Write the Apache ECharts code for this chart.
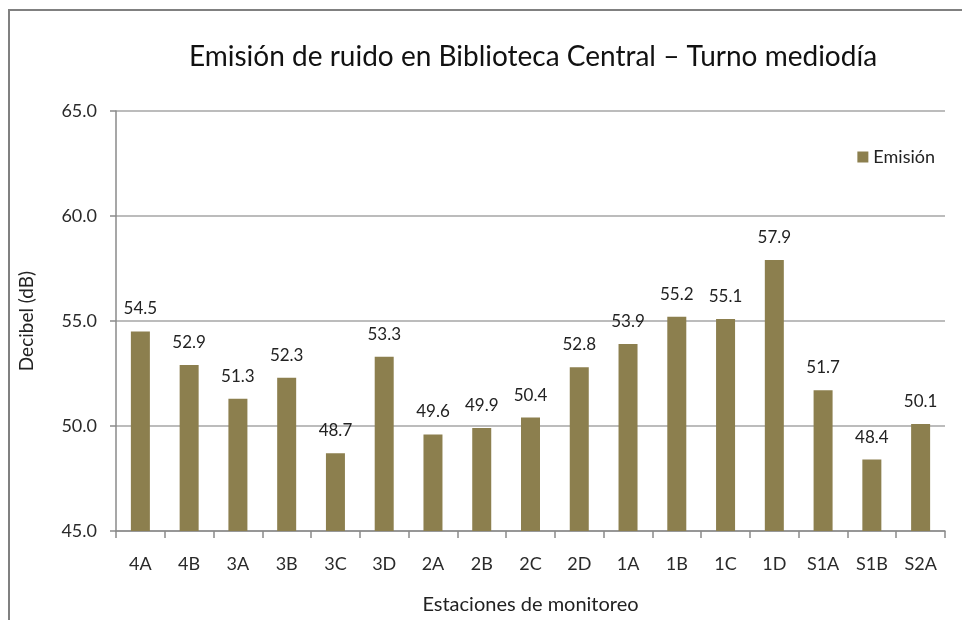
<!DOCTYPE html>
<html>
	<head>
		<meta charset="utf-8">
		<script src="https://cdn.jsdelivr.net/npm/echarts@6/dist/echarts.min.js"></script>
		<title>Emisión de ruido</title>
	</head>
	<style>
		* {
			margin: 0;
			padding: 0;
			box-sizing: border-box;
		}
		body {
			background: #fff;
		}
		.frame {
			position: absolute;
			left: 8px;
			top: 9px;
			width: 960px;
			height: 620px;
			border-top: 2px solid #808080;
			border-left: 2px solid #808080;
		}
	</style>
	<body>
		<div class="frame"></div>
		<div id="chart" style="position:absolute;left:0;top:0;width:962px;height:620px;"></div>
	</body>
	<script type="text/javascript">
		// estaciones y valores
		var estaciones = ['4A', '4B', '3A', '3B', '3C', '3D', '2A', '2B', '2C', '2D', '1A', '1B', '1C', '1D', 'S1A', 'S1B', 'S2A']
		var emision = [54.5, 52.9, 51.3, 52.3, 48.7, 53.3, 49.6, 49.9, 50.4, 52.8, 53.9, 55.2, 55.1, 57.9, 51.7, 48.4, 50.1]
		var yMin = 45
		var yMax = 65
		var yStep = 5

		var font = 'Lato, "Open Sans", sans-serif'
		var barColor = '#8C7F4E'

		var option = {
			backgroundColor: 'transparent',
			textStyle: {
				fontFamily: font
			},
			title: {
				text: 'Emisión de ruido en Biblioteca Central – Turno mediodía',
				left: 528,
				top: 38,
				textAlign: 'center',
				textStyle: {
					fontFamily: font,
					fontSize: 28,
					fontWeight: 'normal',
					color: '#111'
				}
			},
			legend: {
				right: 22,
				top: 143,
				itemWidth: 11,
				itemHeight: 11,
				icon: 'rect',
				itemGap: 6,
				textStyle: {
					fontFamily: font,
					fontSize: 18,
					color: '#222'
				},
				data: ['Emisión']
			},
			grid: {
				left: 116,
				right: 17,
				top: 111,
				bottom: 87
			},
			xAxis: {
				type: 'category',
				data: estaciones,
				name: 'Estaciones de monitoreo',
				nameLocation: 'middle',
				nameGap: 64,
				nameTextStyle: {
					fontFamily: font,
					fontSize: 20,
					color: '#222'
				},
				axisLine: {
					lineStyle: {
						color: '#8a8a8a',
						width: 1.5
					}
				},
				axisTick: {
					show: true,
					length: 7,
					lineStyle: {
						color: '#8a8a8a',
						width: 1.5
					}
				},
				axisLabel: {
					fontFamily: font,
					fontSize: 18,
					color: '#2a2a2a',
					margin: 24
				}
			},
			yAxis: {
				type: 'value',
				min: yMin,
				max: yMax,
				interval: yStep,
				name: 'Decibel (dB)',
				nameLocation: 'middle',
				nameGap: 80,
				nameTextStyle: {
					fontFamily: font,
					fontSize: 19,
					color: '#222'
				},
				axisLine: {
					show: true,
					lineStyle: {
						color: '#8a8a8a',
						width: 1.5
					}
				},
				axisTick: {
					show: true,
					length: 6,
					lineStyle: {
						color: '#8a8a8a',
						width: 1.5
					}
				},
				axisLabel: {
					fontFamily: font,
					fontSize: 18,
					color: '#2a2a2a',
					margin: 19,
					formatter: function(v) {
						return v.toFixed(1)
					}
				},
				splitLine: {
					lineStyle: {
						color: '#a6a6a6',
						width: 1.5
					}
				}
			},
			series: [{
				name: 'Emisión',
				type: 'bar',
				data: emision,
				barWidth: 19,
				itemStyle: {
					color: barColor
				},
				label: {
					show: true,
					position: 'top',
					distance: 14,
					fontFamily: font,
					fontSize: 17,
					color: '#222',
					formatter: function(p) {
						return p.value.toFixed(1)
					}
				}
			}]
		}
		let chart = echarts.init(document.getElementById('chart'))
		chart.setOption(option)
	</script>
</html>
